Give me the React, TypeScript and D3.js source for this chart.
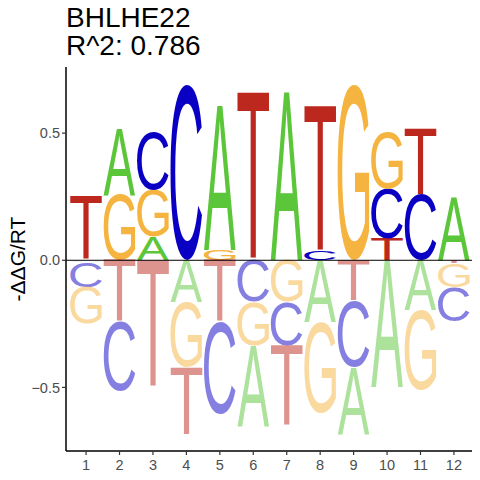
import { useMemo } from "react";
import * as d3 from "d3";

// energy logo values per base, positions 1..12
const positions = [1, 2, 3, 4, 5, 6, 7, 8, 9, 10, 11, 12];
const baseA = [-0.005, 0.262, 0.092, -0.164, 0.567, -0.319, 0.659, -0.243, -0.264, -0.499, -0.197, 0.247];
const baseC = [-0.1, -0.272, 0.227, 0.689, -0.361, -0.164, -0.173, 0.037, -0.26, 0.197, 0.258, -0.135];
const baseG = [-0.145, 0.258, 0.187, -0.256, 0.04, -0.171, -0.164, -0.358, 0.689, 0.223, -0.315, -0.095];
const baseT = [0.25, -0.243, -0.499, -0.265, -0.243, 0.659, -0.316, 0.57, -0.16, 0.085, 0.262, -0.01];
const yTicks = [-0.5, 0, 0.5];

const letters = ["A", "C", "G", "T"];
const series = [baseA, baseC, baseG, baseT];
const colors: Record<string, string> = {
  A: "#5CC63A",
  C: "#0A00C4",
  G: "#F5B43F",
  T: "#BC281E",
};

const FONT = "'Liberation Sans', Arial, sans-serif";

type Box = { letter: string; pos: number; y0: number; y1: number; neg: boolean };

function glyphMetrics() {
  const canvas = document.createElement("canvas");
  const ctx = canvas.getContext("2d")!;
  ctx.font = `100px ${FONT}`;
  const out: Record<string, { l: number; w: number; a: number; h: number }> = {};
  letters.forEach((ch) => {
    const m = ctx.measureText(ch);
    out[ch] = {
      l: m.actualBoundingBoxLeft,
      w: m.actualBoundingBoxLeft + m.actualBoundingBoxRight,
      a: m.actualBoundingBoxAscent,
      h: m.actualBoundingBoxAscent + m.actualBoundingBoxDescent,
    };
  });
  return out;
}

export default function App() {
  const left = 66;
  const right = 474;
  const top = 67;
  const bottom = 451;

  const x = d3.scaleLinear().domain([0.4, 12.6]).range([left, right]);
  const y = d3.scaleLinear().domain([-0.75, 0.76]).range([bottom, top]);

  const metrics = useMemo(glyphMetrics, []);

  // stack letters: smallest magnitude nearest zero
  const boxes: Box[] = [];
  positions.forEach((p, i) => {
    const vals = letters.map((l, k) => ({ letter: l, v: series[k][i] }));
    const pos = vals.filter((d) => d.v > 0).sort((a, b) => a.v - b.v);
    const neg = vals.filter((d) => d.v < 0).sort((a, b) => b.v - a.v);
    let acc = 0;
    pos.forEach((d) => {
      boxes.push({ letter: d.letter, pos: p, y0: acc, y1: acc + d.v, neg: false });
      acc += d.v;
    });
    acc = 0;
    neg.forEach((d) => {
      boxes.push({ letter: d.letter, pos: p, y0: acc + d.v, y1: acc, neg: true });
      acc += d.v;
    });
  });

  const halfW = 0.475;

  return (
    <svg width={480} height={480} style={{ display: "block", margin: -8 }}>
      <rect width={480} height={480} fill="#fff" />
      {/* letters */}
      {boxes.map((b, i) => {
        const m = metrics[b.letter];
        const x0 = x(b.pos - halfW);
        const x1 = x(b.pos + halfW);
        const yt = y(b.y1);
        const yb = y(b.y0);
        const sx = (x1 - x0) / m.w;
        const sy = (yb - yt) / m.h;
        return (
          <text
            key={i}
            transform={`translate(${x0},${yt}) scale(${sx},${sy})`}
            x={m.l}
            y={m.a}
            fontFamily={FONT}
            fontSize={100}
            fill={colors[b.letter]}
            fillOpacity={b.neg ? 0.5 : 1}
          >
            {b.letter}
          </text>
        );
      })}
      {/* zero line */}
      <line x1={left} x2={right} y1={y(0)} y2={y(0)} stroke="#000" strokeWidth={1} />
      {/* axes */}
      <line x1={left} x2={left} y1={top} y2={bottom} stroke="#000" strokeWidth={1.5} />
      <line x1={left} x2={right} y1={bottom} y2={bottom} stroke="#000" strokeWidth={1.5} />
      {yTicks.map((t) => (
        <g key={t}>
          <line x1={left - 4} x2={left} y1={y(t)} y2={y(t)} stroke="#333" strokeWidth={1.2} />
          <text
            x={left - 6}
            y={y(t)}
            dy="0.36em"
            textAnchor="end"
            fontFamily={FONT}
            fontSize={14.5}
            fill="#4D4D4D"
          >
            {d3.format(".1f")(t)}
          </text>
        </g>
      ))}
      {positions.map((p) => (
        <g key={p}>
          <line x1={x(p)} x2={x(p)} y1={bottom} y2={bottom + 4} stroke="#333" strokeWidth={1.2} />
          <text
            x={x(p)}
            y={bottom + 19}
            textAnchor="middle"
            fontFamily={FONT}
            fontSize={14.5}
            fill="#4D4D4D"
          >
            {p}
          </text>
        </g>
      ))}
      <text
        transform={`translate(25,${(top + bottom) / 2}) rotate(-90)`}
        textAnchor="middle"
        fontFamily={FONT}
        fontSize={21}
        fill="#000"
      >
        -ΔΔG/RT
      </text>
      {/* title */}
      <text x={66} y={27} fontFamily={FONT} fontSize={28} fill="#000">
        BHLHE22
      </text>
      <text x={66} y={55} fontFamily={FONT} fontSize={28} fill="#000">
        R^2: 0.786
      </text>
    </svg>
  );
}
